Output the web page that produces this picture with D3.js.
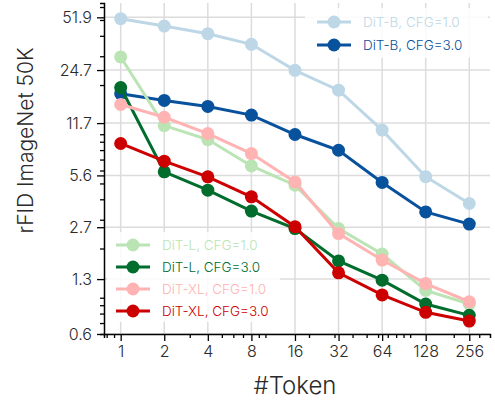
<!DOCTYPE html>
<html>
<head>
<meta charset="utf-8">
<script src="https://cdn.jsdelivr.net/npm/d3@7"></script>
<style>
  body { margin: 0; background: #fff; }
  svg text { font-family: "Inter", "Lato", sans-serif; font-weight: 300; }
</style>
</head>
<body>
<div id="chart"></div>
<script>
// data
var tokens = [1, 2, 4, 8, 16, 32, 64, 128, 256];
var yTickVals = [0.6, 1.3, 2.7, 5.6, 11.7, 24.7, 51.9];

var ditB_cfg1  = [50.9, 45.9, 41.2, 35.5, 24.6, 18.6, 10.6, 5.5, 3.77];
var ditB_cfg3  = [17.7, 16.1, 14.8, 13.1, 9.96, 7.98, 5.07, 3.35, 2.82];
var ditL_cfg1  = [29.7, 11.3, 9.28, 6.4, 4.88, 2.65, 1.85, 1.11, 0.915];
var ditL_cfg3  = [19.3, 5.89, 4.55, 3.39, 2.65, 1.68, 1.28, 0.915, 0.78];
var ditXL_cfg1 = [15.2, 12.7, 10.1, 7.62, 5.11, 2.47, 1.70, 1.22, 0.945];
var ditXL_cfg3 = [8.78, 6.84, 5.49, 4.14, 2.72, 1.42, 1.04, 0.814, 0.72];

var series = [
  {name: "DiT-B, CFG=1.0",  values: ditB_cfg1,  color: "#bdd7e7"},
  {name: "DiT-B, CFG=3.0",  values: ditB_cfg3,  color: "#08519c"},
  {name: "DiT-L, CFG=1.0",  values: ditL_cfg1,  color: "#bae4b3"},
  {name: "DiT-L, CFG=3.0",  values: ditL_cfg3,  color: "#006d2c"},
  {name: "DiT-XL, CFG=1.0", values: ditXL_cfg1, color: "#ffb3b3"},
  {name: "DiT-XL, CFG=3.0", values: ditXL_cfg3, color: "#cc0000"}
];

var W = 495, H = 402;
var plotL = 104, plotR = 490, plotT = 3, plotB = 334;

var svg = d3.select("#chart").append("svg")
    .attr("width", W)
    .attr("height", H);

var x = d3.scaleLog().base(2)
    .domain([0.767, 356])
    .range([plotL, plotR]);

var y = d3.scaleLog()
    .domain([0.6, 63.5])
    .range([plotB, plotT]);

// grid
var grid = svg.append("g");
grid.selectAll(".gx").data(tokens).enter().append("line")
    .attr("x1", function(d) { return x(d); }).attr("x2", function(d) { return x(d); })
    .attr("y1", plotT).attr("y2", plotB)
    .attr("stroke", "#dcdcdc").attr("stroke-width", 1.5);
grid.selectAll(".gy").data(yTickVals).enter().append("line")
    .attr("x1", plotL).attr("x2", plotR)
    .attr("y1", function(d) { return y(d); }).attr("y2", function(d) { return y(d); })
    .attr("stroke", "#dcdcdc").attr("stroke-width", 1.5);

// lines + markers
var line = d3.line()
    .x(function(d, i) { return x(tokens[i]); })
    .y(function(d) { return y(d); });

series.forEach(function(s) {
    var g = svg.append("g");
    g.append("path")
        .datum(s.values)
        .attr("d", line)
        .attr("fill", "none")
        .attr("stroke", s.color)
        .attr("stroke-width", 3);
    g.selectAll("circle").data(s.values).enter().append("circle")
        .attr("cx", function(d, i) { return x(tokens[i]); })
        .attr("cy", function(d) { return y(d); })
        .attr("r", 6.5)
        .attr("fill", s.color);
});

// axes
var minorHelperX = d3.scaleLog().domain(x.domain());
var xMinor = minorHelperX.ticks().filter(function(v) { return tokens.indexOf(v) < 0; });

var xAxis = svg.append("g").attr("transform", "translate(0," + plotB + ")");
xAxis.call(d3.axisBottom(x).tickValues(tokens).tickFormat(d3.format("d")).tickSize(7).tickPadding(5));
xAxis.append("g").call(d3.axisBottom(x).tickValues(xMinor).tickFormat("").tickSize(4));

var yMinor = y.ticks().filter(function(v) { return yTickVals.indexOf(v) < 0; });
var yAxis = svg.append("g").attr("transform", "translate(" + plotL + ",0)");
yAxis.call(d3.axisLeft(y).tickValues(yTickVals).tickFormat(function(d) { return d; }).tickSize(7).tickPadding(5));
yAxis.append("g").call(d3.axisLeft(y).tickValues(yMinor).tickFormat("").tickSize(4));

// hide minor axis domain duplicates
xAxis.select("g .domain").remove();
yAxis.select("g .domain").remove();
svg.selectAll(".domain").attr("stroke", "#000").attr("stroke-width", 1.5);
svg.selectAll(".tick line").attr("stroke", "#000").attr("stroke-width", 1.3);
svg.selectAll(".tick text")
    .attr("fill", "#2a2a2a")
    .style("font-size", "16px")
    .style("font-family", "Inter, Lato, sans-serif")
    .style("font-weight", 300);

// axis labels
svg.append("text")
    .attr("x", (plotL + plotR) / 2 - 2)
    .attr("y", 394)
    .attr("text-anchor", "middle")
    .attr("fill", "#2a2a2a")
    .style("font-size", "24px")
    .text("#Token");

svg.append("text")
    .attr("transform", "translate(33," + ((plotT + plotB) / 2 - 28) + ") rotate(-90)")
    .attr("text-anchor", "middle")
    .attr("fill", "#2a2a2a")
    .style("font-size", "21px")
    .text("rFID ImageNet 50K");

// legends
function drawLegend(items, bx, by, bw, bh, lx, rowY) {
    var lg = svg.append("g");
    lg.append("rect")
        .attr("x", bx).attr("y", by).attr("width", bw).attr("height", bh)
        .attr("rx", 4)
        .attr("fill", "#fff").attr("fill-opacity", 0.85);
    items.forEach(function(s, i) {
        var yy = rowY[i];
        lg.append("line")
            .attr("x1", lx).attr("x2", lx + 34)
            .attr("y1", yy).attr("y2", yy)
            .attr("stroke", s.color).attr("stroke-width", 3);
        lg.append("circle")
            .attr("cx", lx + 17).attr("cy", yy).attr("r", 6.5)
            .attr("fill", s.color);
        lg.append("text")
            .attr("x", lx + 46).attr("y", yy + 5)
            .attr("fill", s.color)
            .style("font-size", "13.5px")
            .text(s.name);
    });
}

drawLegend(series.slice(0, 2), 305, 8, 183, 50, 317, [22, 45]);
drawLegend(series.slice(2), 107, 232, 173, 90, 116, [245, 267, 289, 311]);
</script>
</body>
</html>
